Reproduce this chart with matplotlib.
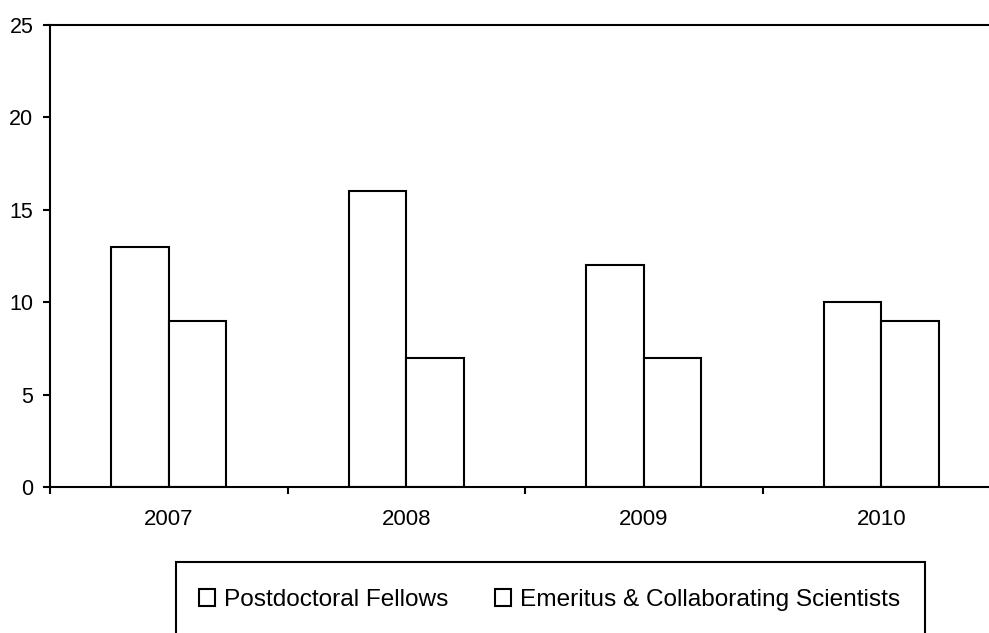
import matplotlib
matplotlib.use("Agg")
import matplotlib.pyplot as plt
from matplotlib.patches import Rectangle
import numpy as np

years = ["2007", "2008", "2009", "2010"]
postdocs = [13, 16, 12, 10]
emeritus = [9, 7, 7, 9]
series_names = ["Postdoctoral Fellows", "Emeritus & Collaborating Scientists"]
y_ticks = [0, 5, 10, 15, 20, 25]

plt.rcParams["font.family"] = ["Liberation Sans", "DejaVu Sans"]

W, H = 989, 633
fig = plt.figure(figsize=(W / 100, H / 100), dpi=100)
ax = fig.add_axes([50 / W, 1 - 487 / H, 950 / W, 462 / H])

x = np.arange(len(years)) + 0.5
bw = 0.242
lw = 1.5
b1 = ax.bar(x - bw / 2, postdocs, bw, color="white", edgecolor="black", linewidth=lw,
            label=series_names[0])
b2 = ax.bar(x + bw / 2, emeritus, bw, color="white", edgecolor="black", linewidth=lw,
            label=series_names[1])

ax.set_xlim(0, len(years))
ax.set_ylim(0, 25)
ax.set_yticks(y_ticks)
ax.tick_params(axis="y", direction="out", length=5, width=lw, labelsize=15.5, pad=7)

ax.set_xticks(np.arange(len(years) + 1))
ax.set_xticklabels([])
ax.set_xticks(x, minor=True)
ax.set_xticklabels(years, minor=True)
ax.tick_params(axis="x", which="major", direction="out", length=5, width=lw)
ax.tick_params(axis="x", which="minor", length=0, labelsize=16, pad=16)

for side in ["left", "bottom", "top"]:
    ax.spines[side].set_linewidth(lw)
ax.spines["right"].set_visible(False)

# legend frame running off the bottom edge
fig.patches.append(Rectangle((176 / W, -0.05), (925 - 176) / W, 0.05 + (633 - 562) / H,
                             transform=fig.transFigure, facecolor="none",
                             edgecolor="black", linewidth=lw))
fig.legend(handles=[b1, b2], labels=series_names, loc="center",
           bbox_to_anchor=(549.5 / W, 1 - 600 / H), ncol=2, frameon=False,
           fontsize=17.6, handlelength=0.68, handleheight=0.68, handletextpad=0.35,
           columnspacing=1.9, borderpad=0)

fig.savefig("out.png", dpi=100)
